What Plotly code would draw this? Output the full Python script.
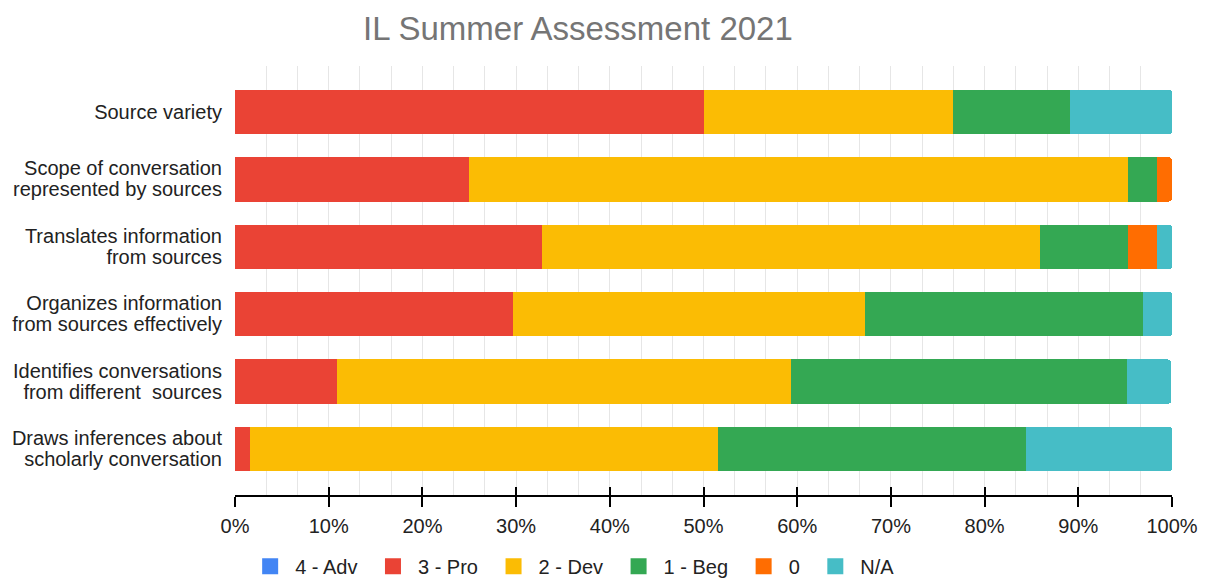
import plotly.graph_objects as go

categories = [
    "Source variety",
    "Scope of conversation represented by sources",
    "Translates information from sources",
    "Organizes information from sources effectively",
    "Identifies conversations from different  sources",
    "Draws inferences about scholarly conversation",
]
label_line1 = ["Source variety", "Scope of conversation", "Translates information",
               "Organizes information", "Identifies conversations", "Draws inferences about"]
label_line2 = ["", "represented by sources", "from sources",
               "from sources effectively", "from different  sources", "scholarly conversation"]
series_names = ["4 - Adv", "3 - Pro", "2 - Dev", "1 - Beg", "0", "N/A"]
adv = [0, 0, 0, 0, 0, 0]
pro = [50.0, 25.0, 32.8, 29.7, 10.9, 1.6]
dev = [26.6, 70.3, 53.1, 37.5, 48.4, 50.0]
beg = [12.5, 3.1, 9.4, 29.7, 35.9, 32.8]
zero = [0, 1.6, 3.1, 0, 0, 0]
na = [10.9, 0, 1.6, 3.1, 4.7, 15.6]
colors = ["#4285F4", "#EA4335", "#FBBC04", "#34A853", "#FF6D01", "#46BDC6"]
x_ticks = [0, 10, 20, 30, 40, 50, 60, 70, 80, 90, 100]

fig = go.Figure()
for name, vals, col in zip(series_names, [adv, pro, dev, beg, zero, na], colors):
    fig.add_trace(go.Bar(y=categories, x=vals, name=name, orientation="h",
                         legendgroup=name, showlegend=False,
                         marker=dict(color=col, line=dict(width=0)),
                         hoverinfo="x+name"))
# legend entries (larger square swatches)
for name, col in zip(series_names, colors):
    fig.add_trace(go.Scatter(x=[None], y=[None], mode="markers", name=name + "\u00a0",
                             legendgroup=name, showlegend=True, hoverinfo="skip",
                             marker=dict(symbol="square", size=18, color=col)))

idx = list(range(len(categories)))
single = [i for i in idx if label_line2[i] == ""]
double = [i for i in idx if label_line2[i] != ""]
# helper invisible traces so overlay axes get drawn
for ax_x, ax_y in [("x2", "y"), ("x", "y2"), ("x", "y3")]:
    fig.add_trace(go.Scatter(x=[None], y=[None], xaxis=ax_x, yaxis=ax_y,
                             showlegend=False, hoverinfo="skip"))

font_family = "Liberation Sans, Arial, sans-serif"
yr = [5.684, -0.684]
fig.update_layout(
    barmode="stack",
    bargap=0.345,
    barcornerradius=3,
    width=1210, height=579,
    margin=dict(l=227, r=46, t=58, b=92),
    paper_bgcolor="white", plot_bgcolor="white",
    font=dict(family=font_family, size=20, color="#222222"),
    title=dict(text="IL Summer Assessment 2021", x=0.471, xanchor="center",
               y=0.965, yanchor="middle",
               font=dict(family=font_family, size=33, color="#757575")),
    legend=dict(orientation="h", xref="container", yref="container",
                x=0.196, xanchor="left", y=0.036, yanchor="middle",
                font=dict(size=20, color="#222222"), traceorder="normal",
                itemwidth=40, itemsizing="trace"),
    xaxis=dict(range=[0, 100], tickvals=x_ticks,
               ticktext=[f"{v}%" for v in x_ticks],
               showgrid=False, zeroline=False, automargin=False,
               showline=True, linecolor="#000000", linewidth=1.5,
               ticks="outside", ticklen=10, tickwidth=1.5, tickcolor="#000000",
               ticklabelstandoff=2,
               minor=dict(dtick=10 / 3, tick0=0, showgrid=True, gridcolor="#e6e6e6",
                          gridwidth=1, ticks=""),
               fixedrange=True),
    xaxis2=dict(range=[0, 100], overlaying="x", side="bottom", anchor="y",
                tickvals=x_ticks, showticklabels=False, showgrid=False,
                zeroline=False, showline=False, automargin=False,
                ticks="inside", ticklen=8, tickwidth=1.5, tickcolor="#000000"),
    yaxis=dict(range=yr, showgrid=False, zeroline=False, automargin=False,
               tickvals=[categories[i] for i in single],
               ticktext=[label_line1[i] for i in single],
               ticks="", ticklabelstandoff=12, showline=False),
    yaxis2=dict(range=yr, overlaying="y", side="left", anchor="x", type="linear",
                tickvals=double, ticktext=[label_line1[i] for i in double],
                ticklabelshift=11, showgrid=False, zeroline=False, automargin=False,
                ticks="", ticklabelstandoff=12, showline=False),
    yaxis3=dict(range=yr, overlaying="y", side="left", anchor="x", type="linear",
                tickvals=double, ticktext=[label_line2[i] for i in double],
                ticklabelshift=-10, showgrid=False, zeroline=False, automargin=False,
                ticks="", ticklabelstandoff=12, showline=False),
)
fig.write_html("out.html")
